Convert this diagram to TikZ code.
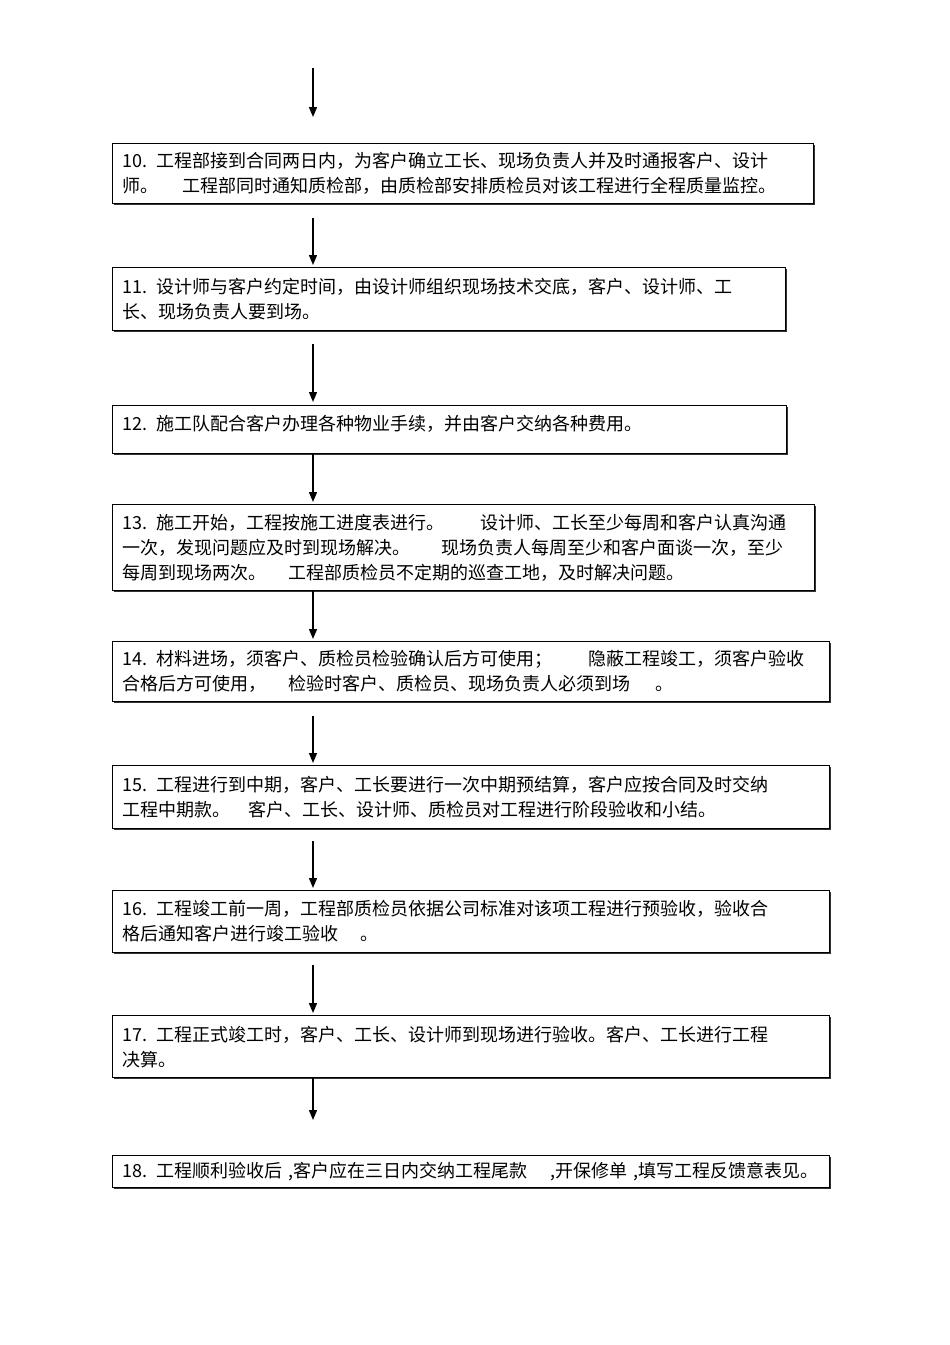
\documentclass[tikz,border=0pt]{standalone}
\usepackage{fontspec}
\newfontfamily\cjk{Noto Sans CJK SC}
\usetikzlibrary{arrows.meta,calc,shadows}

\begin{document}
\begin{tikzpicture}[x=1pt, y=-1pt,
  box/.style={draw, line width=1.2pt, fill=white, anchor=north west, align=left,
    inner xsep=10pt, inner ysep=0pt,
    drop shadow={shadow xshift=1pt, shadow yshift=-1pt, fill=black, opacity=0.8},
    font=\cjk\fontsize{18pt}{25pt}\selectfont},
  arr/.style={line width=1.4pt, -{Triangle[length=10pt,width=8pt]}}]
\useasboundingbox (0,0) rectangle (950,1345);

\node[box, text width=681pt, minimum height=60pt] (b10) at (112,143)
  {10. 工程部接到合同两日内，为客户确立工长、现场负责人并及时通报客户、设计\\师。\hspace{1.33em}工程部同时通知质检部，由质检部安排质检员对该工程进行全程质量监控。};
\node[box, text width=653pt, minimum height=63pt] (b11) at (112,267)
  {11. 设计师与客户约定时间，由设计师组织现场技术交底，客户、设计师、工\\长、现场负责人要到场。};
\node[box, text width=654pt, minimum height=48pt, text depth=14pt] (b12) at (112,405)
  {12. 施工队配合客户办理各种物业手续，并由客户交纳各种费用。};
\node[box, text width=682pt, minimum height=86pt] (b13) at (112,504)
  {13. 施工开始，工程按施工进度表进行。\hspace{2em}设计师、工长至少每周和客户认真沟通\\一次，发现问题应及时到现场解决。\hspace{1.7em}现场负责人每周至少和客户面谈一次，至少\\每周到现场两次。\hspace{1.2em}工程部质检员不定期的巡查工地，及时解决问题。};
\node[box, text width=697pt, minimum height=60pt] (b14) at (112,641)
  {\mbox{14. 材料进场，须客户、质检员检验确认后方可使用；\hspace{2em}隐蔽工程竣工，须客户验收}\\合格后方可使用，\hspace{1.2em}检验时客户、质检员、现场负责人必须到场\hspace{1.4em}。};
\node[box, text width=697pt, minimum height=63pt] (b15) at (112,765)
  {15. 工程进行到中期，客户、工长要进行一次中期预结算，客户应按合同及时交纳\\工程中期款。\hspace{1em}客户、工长、设计师、质检员对工程进行阶段验收和小结。};
\node[box, text width=697pt, minimum height=62pt] (b16) at (112,890)
  {16. 工程竣工前一周，工程部质检员依据公司标准对该项工程进行预验收，验收合\\格后通知客户进行竣工验收\hspace{1.2em}。};
\node[box, text width=697pt, minimum height=62pt] (b17) at (112,1015)
  {17. 工程正式竣工时，客户、工长、设计师到现场进行验收。客户、工长进行工程\\决算。};
\node[box, text width=697pt, minimum height=32pt] (b18) at (112,1155)
  {18. 工程顺利验收后 ,客户应在三日内交纳工程尾款\hspace{1.3em},开保修单 ,填写工程反馈意表见。};

% arrows
\coordinate (start) at (313,68);
\draw[arr] (start) -- ($(b10.north west)+(201,-26)$);
\foreach \a/\b/\s/\e in {b10/b11/14/2, b11/b12/13/3, b12/b13/0/2, b13/b14/0/2,
  b14/b15/14/2, b15/b16/12/2, b16/b17/12/2, b17/b18/0/35}{
	\draw[arr] ($(\a.south west)+(201,\s)$) -- ($(\b.north west)+(201,-\e)$);
}
\end{tikzpicture}
\end{document}
